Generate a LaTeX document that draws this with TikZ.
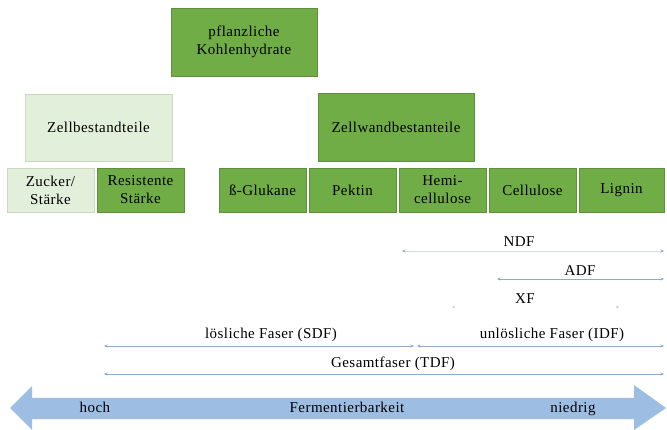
\documentclass[tikz,border=0pt]{standalone}
\usepackage{fontspec}
\setmainfont{Liberation Serif}
\usetikzlibrary{arrows.meta}
\definecolor{gbox}{HTML}{70AD47}
\definecolor{gborder}{HTML}{5E8F3C}
\definecolor{lbox}{HTML}{E2EFDA}
\definecolor{lborder}{HTML}{C9D9BE}
\definecolor{bline}{HTML}{8FAACB}
\definecolor{fline}{HTML}{D0DCEA}
\definecolor{barrow}{HTML}{9DBDE3}
\newcommand{\dfont}{\fontsize{15}{18}\selectfont\addfontfeature{LetterSpace=3}}
\begin{document}
\begin{tikzpicture}[x=1pt,y=-1pt,
  gb/.style={draw=gborder,fill=gbox,line width=0.8pt,inner sep=0pt,align=center,font=\dfont},
  lb/.style={draw=lborder,fill=lbox,line width=0.8pt,inner sep=0pt,align=center,font=\dfont},
  rng/.style={draw=bline,line width=0.6pt,{Stealth[length=3.5pt,width=3pt]}-{Stealth[length=3.5pt,width=3pt]}},
  lbl/.style={font=\dfont,inner sep=0pt,anchor=base}]
\useasboundingbox (0,0) rectangle (667,430);
% boxes
\node[gb,minimum width=146pt,minimum height=68pt] (pk) at (244,42) {pflanzliche\\Kohlenhydrate};
\node[lb,minimum width=147pt,minimum height=67pt] (zb) at (98.5,127.5) {Zellbestandteile};
\node[gb,minimum width=156pt,minimum height=68pt] (zw) at (396,127) {Zellwandbestanteile};
\node[lb,minimum width=87pt,minimum height=44pt] (zs) at (50.5,190) {Zucker/\\Stärke};
\node[gb,minimum width=87pt,minimum height=44pt] (rs) at (140.5,190) {Resistente\\Stärke};
\node[gb,minimum width=87pt,minimum height=44pt] (bg) at (262.5,190) {ß-Glukane};
\node[gb,minimum width=87pt,minimum height=44pt] (pe) at (352.5,190) {Pektin};
\node[gb,minimum width=87pt,minimum height=44pt] (hc) at (442.5,190) {Hemi-\\cellulose};
\node[gb,minimum width=87pt,minimum height=44pt] (ce) at (532.5,190) {Cellulose};
\node[gb,minimum width=85pt,minimum height=44pt] (li) at (621.5,190) {Lignin};
% ranges
\coordinate (ndfL) at (402,251); \coordinate (ndfR) at (664,251);
\draw[rng,draw=fline,{Stealth[length=3.5pt,width=3pt,color=bline]}-{Stealth[length=3.5pt,width=3pt,color=bline]}] (ndfL) -- (ndfR);
\node[lbl] (ndf) at (519,247) {NDF};
\coordinate (adfL) at (497,279); \coordinate (adfR) at (664,279);
\draw[rng] (adfL) -- (adfR);
\node[lbl] (adf) at (580,276) {ADF};
\coordinate (xfL) at (452,307); \coordinate (xfR) at (619,307);
\draw[draw=white,line width=0.6pt,{Stealth[length=3pt,width=2.5pt,color=bline!70]}-{Stealth[length=3pt,width=2.5pt,color=bline!70]}] (xfL) -- (xfR);
\node[lbl] (xf) at (525,304) {XF};
\coordinate (sdfL) at (104,346); \coordinate (sdfR) at (414,346);
\draw[rng] (sdfL) -- (sdfR);
\node[lbl] (sdf) at (271,339) {lösliche Faser (SDF)};
\coordinate (idfL) at (417,346); \coordinate (idfR) at (664,346);
\draw[rng] (idfL) -- (idfR);
\node[lbl] (idf) at (552,339) {unlösliche Faser (IDF)};
\coordinate (tdfL) at (104,374); \coordinate (tdfR) at (664,374);
\draw[rng] (tdfL) -- (tdfR);
\node[lbl] (tdf) at (393,367) {Gesamtfaser (TDF)};
% big double arrow
\fill[barrow] (10,408) -- (32,386) -- (32,398) -- (634,398) -- (634,385) -- (666,408) -- (634,430) -- (634,419) -- (32,419) -- (32,430) -- cycle;
\node[lbl] (hoch) at (95,413) {hoch};
\node[lbl] (ferm) at (347,413) {Fermentierbarkeit};
\node[lbl] (nied) at (573,413) {niedrig};
\end{tikzpicture}
\end{document}
